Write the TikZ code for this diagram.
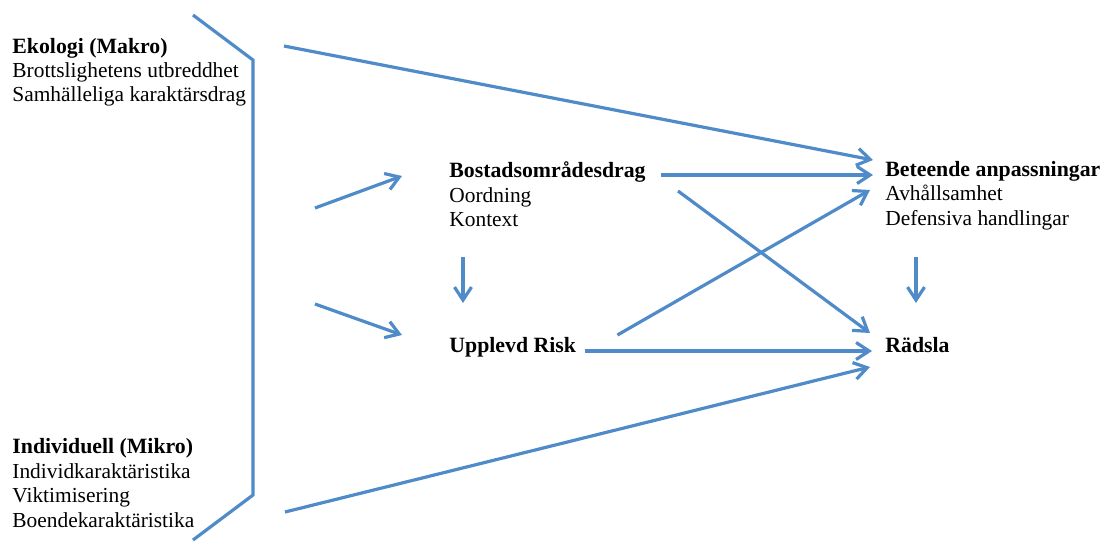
\documentclass[tikz,border=0pt]{standalone}
\usepackage{fontspec}
\setmainfont{Liberation Serif}
\usetikzlibrary{arrows.meta,calc}

\definecolor{pilbla}{RGB}{79,139,201}

\tikzset{
  pil/.style={draw=pilbla, line width=1.6pt, -{Straight Barb[length=6.5pt,width=8.5pt]}},
  linje/.style={draw=pilbla, line width=1.6pt},
  rubrik/.style={anchor=base west, inner sep=0pt, font=\fontsize{10.9}{13}\selectfont\bfseries},
  rad/.style={anchor=base west, inner sep=0pt, font=\fontsize{10.7}{13}\selectfont},
}

\begin{document}
\begin{tikzpicture}[x=0.5pt, y=-0.5pt]
			\useasboundingbox (0,0) rectangle (1104,542);

			% makro / mikro
			\node [rubrik] (eko) at (12,53) {Ekologi (Makro)};
			\node [rad] (eko1) at (12,77) {Brottslighetens utbreddhet};
			\node [rad] (eko2) at (12,101) {Samhälleliga karaktärsdrag};

			\node [rubrik] (ind) at (12,453) {Individuell (Mikro)};
			\node [rad] (ind1) at (12,478) {Individkaraktäristika};
			\node [rad] (ind2) at (12,502) {Viktimisering};
			\node [rad] (ind3) at (12,527) {Boendekaraktäristika};

			% mitten
			\node [rubrik] (bostad) at (449,177) {Bostadsområdesdrag};
			\node [rad] (bostad1) at (449,202) {Oordning};
			\node [rad] (kontext) at (449,226) {Kontext};
			\node [rubrik] (risk) at (449,352) {Upplevd Risk};

			% utfall
			\node [rubrik] (beteende) at (885,176) {Beteende anpassningar};
			\node [rad] (beteende1) at (885,200) {Avhållsamhet};
			\node [rad] (defensiva) at (885,225) {Defensiva handlingar};
			\node [rubrik] (radsla) at (885,352) {Rädsla};

			% klammer
			\draw [linje] (193,15) -- (253,60) -- (253,495) -- (193,540);

			\coordinate (ekostart) at (284,46);
			\coordinate (indstart) at (285,512);
			\coordinate (till1) at (315,208);
			\coordinate (till2) at (315,304);

			\draw [pil] (ekostart) -- ($(beteende.base west)+(-12,-16)$);
			\draw [pil] (indstart) -- ($(radsla.base west)+(-15,15)$);
			\draw [pil] (till1) -- ($(bostad.base west)+(-47,-1)$);
			\draw [pil] (till2) -- ($(risk.base west)+(-47,-17)$);

			\draw [pil] ($(kontext.base west)+(14,31)$) -- ($(risk.base west)+(14,-49)$);
			\draw [pil] ($(defensiva.base west)+(31,32)$) -- ($(radsla.base west)+(31,-49)$);

			\draw [pil] ($(bostad.base east)+(15,-2)$) -- ($(beteende.base west)+(-12,-1)$);
			\draw [pil] ($(bostad.base east)+(32,14)$) -- ($(radsla.base west)+(-15,-19)$);
			\draw [pil] ($(risk.base east)+(41,-17)$) -- ($(beteende.base west)+(-15,14)$);
			\draw [pil] ($(risk.base east)+(9,-1)$) -- ($(radsla.base west)+(-13,-1)$);
		\end{tikzpicture}
\end{document}
